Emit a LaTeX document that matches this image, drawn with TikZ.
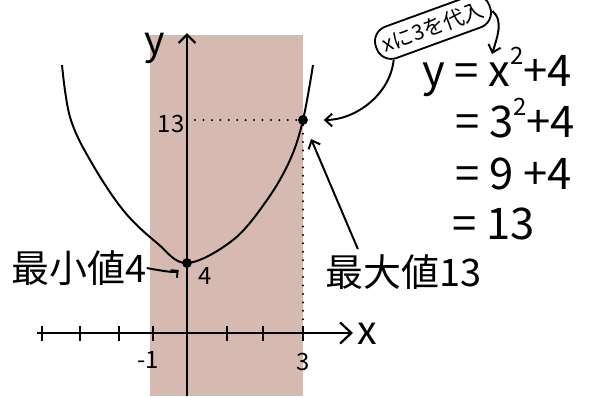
\documentclass[tikz,border=0pt]{standalone}
\usepackage{fontspec}
\setmainfont{Noto Sans CJK JP}
\usepackage{xcolor}
\usetikzlibrary{arrows.meta, positioning, calc}
\definecolor{bandfill}{RGB}{214,185,176}
\tikzset{
  %% Axes with open hand-drawn heads
  xaxis/.style={line width=1.6pt, -{Straight Barb[length=8pt,width=15pt]}},
  yaxis/.style={line width=1.6pt, -{Straight Barb[length=6pt,width=12pt]}},
  tickmark/.style={line width=1.6pt},
  %% Graph of y = x^2 + 4
  curveline/.style={line width=1.4pt},
  ptdot/.style={circle, fill=black, inner sep=0pt, minimum size=7pt},
  dotline/.style={line width=1.6pt, line cap=round,
                  dash pattern=on 0pt off 6pt},
  %% Pointers
  ptr/.style={line width=1.4pt, -{Straight Barb[length=5pt,width=9pt]}},
  smallptr/.style={line width=1.4pt, -{Straight Barb[length=3.5pt,width=7pt]}},
  %% Texts
  axislbl/.style={font=\fontsize{28}{30}\selectfont},
  numlbl/.style={font=\fontsize{17}{19}\selectfont},
  bigcjk/.style={font=\fontsize{27}{29}\selectfont},
  eqn/.style={font=\fontsize{31}{33}\selectfont, anchor=base west},
  bubble/.style={draw, rounded corners=11pt, line width=1.3pt,
                 font=\fontsize{15}{17}\selectfont, inner sep=5pt},
}
\newcommand{\sq}{\raisebox{0.5em}{\fontsize{17}{17}\selectfont 2}}

\begin{document}
\begin{tikzpicture}[x=0.025cm, y=-0.025cm,
                    every node/.style={inner sep=0pt}]
  \useasboundingbox (0,0) rectangle (600,396);

  %% Domain band
  \fill[bandfill] (150,35) rectangle (303,396);

  %% Axes
  \coordinate (xstart) at (37,333);
  \coordinate (xend)   at (353,333);
  \coordinate (ystart) at (187,396);
  \coordinate (yend)   at (187,33);
  \draw[xaxis] (xstart) -- (xend);
  \draw[yaxis] (ystart) -- (yend);
  \foreach \tx in {42,80,119,153,227,263,303}
    \draw[tickmark] (\tx,326) -- (\tx,341);
  \node[axislbl, anchor=west] (xlbl) at (357,334) {x};
  \node[axislbl] (ylbl) at (155,48) {y};
  \node[numlbl] (mone)  at (148,360) {-1};
  \node[numlbl] (three) at (303,362) {3};

  %% Parabola
  \draw[curveline] plot[smooth, tension=0.6] coordinates
       {(62,65) (70,117) (90,160) (123,210) (157,243) (187,263)
        (233,240) (267,200) (290,160) (303,120) (313,65)};

  %% Min and max points
  \node[ptdot] (low)  at (187,263) {};
  \node[ptdot] (high) at (303,120) {};
  \coordinate (yat13) at (195,120);
  \coordinate (xat3)  at (303,328);
  \draw[dotline] (yat13) -- (high);
  \draw[dotline] (high) -- (xat3);
  \node[numlbl] (thirteen) at (171,124) {13};
  \node[numlbl] (four)     at (205,276) {4};

  %% Labels
  \node[bigcjk] (minv) at (79,268) {最小値4};
  \node[bigcjk] (maxv) at (404,272) {最大値13};
  \draw[smallptr, shorten >=4pt] (minv.east) .. controls +(16,3) and +(-12,10) .. (low);
  \draw[ptr, shorten <=4pt, shorten >=11pt] (maxv.158) -- (high);

  %% Substitution
  \node[bubble, rotate=20] (subst) at (433,27) {xに3を代入};
  \coordinate (xtarget) at (492,54);
  \draw[ptr, shorten >=11pt] (subst.-160)
       .. controls (390,95) and (355,120) .. (high);
  \draw[ptr] (subst.-5) .. controls (504,20) and (497,38) .. (xtarget);

  %% Working
  \node[eqn] (eq1) at (422,86)  {y = x\sq+4};
  \node[eqn] (eq2) at (455,137) {= 3\sq+4};
  \node[eqn] (eq3) at (455,189) {= 9 +4};
  \node[eqn] (eq4) at (452,239) {= 13};

\end{tikzpicture}
\end{document}
